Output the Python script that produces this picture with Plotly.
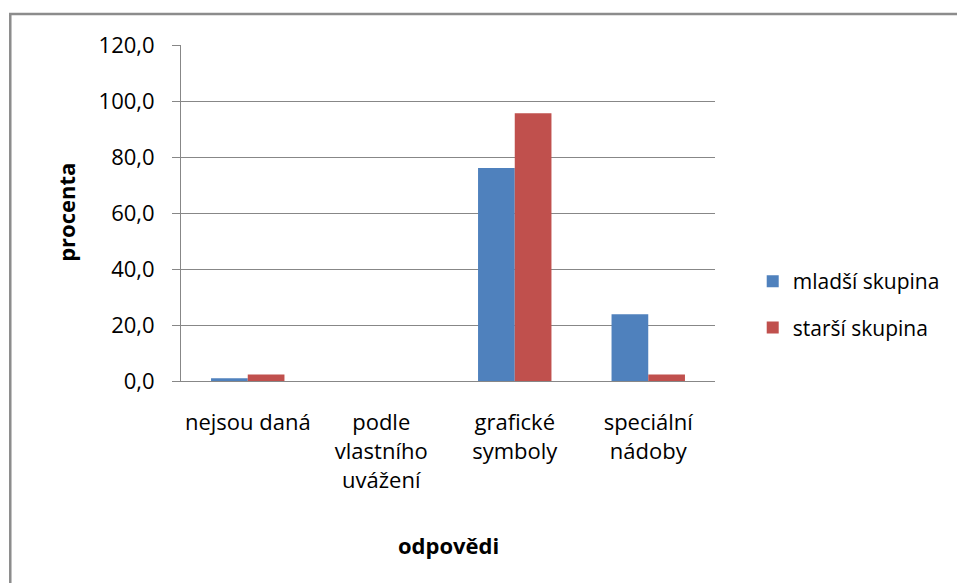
import plotly.graph_objects as go

# Survey answers (percent) for the two age groups
categories = ["nejsou daná", "podle<br>vlastního<br>uvážení", "grafické<br>symboly", "speciální<br>nádoby"]
mladsi = [1.0, 0.0, 76.1, 23.8]
starsi = [2.3, 0.0, 95.6, 2.3]
y_ticks = [0, 20, 40, 60, 80, 100, 120]
y_tick_labels = ["0,0", "20,0", "40,0", "60,0", "80,0", "100,0", "120,0"]

W, H = 957, 583
L, R, T, B = 181, 719, 45, 381  # plot area in pixels

FONT = "Open Sans"
GRID = "#878787"

fig = go.Figure()
fig.add_trace(go.Bar(
    x=categories, y=mladsi, name="mladší skupina",
    marker=dict(color="#4F81BD", line=dict(width=0)),
    legendgroup="a",
))
fig.add_trace(go.Bar(
    x=categories, y=starsi, name="starší skupina",
    marker=dict(color="#C0504D", line=dict(width=0)),
    legendgroup="b",
))

pw, ph = R - L, B - T


def px_x(x):
    return (x - L) / pw


def px_y(y):
    return (B - y) / ph


fig.update_layout(
    width=W, height=H,
    margin=dict(l=L, r=W - R, t=T, b=H - B, pad=0),
    paper_bgcolor="white", plot_bgcolor="white",
    barmode="group", bargap=0.45, bargroupgap=0,
    font=dict(family=FONT, size=22, color="#000000"),
    showlegend=True,
    legend=dict(
        x=px_x(757), y=px_y(261), xanchor="left", yanchor="top",
        font=dict(family=FONT, size=21, color="#000000"),
        tracegroupgap=16, itemclick=False, bgcolor="rgba(0,0,0,0)",
    ),
    xaxis=dict(
        showgrid=False, showline=True, linecolor=GRID, linewidth=1,
        ticks="", tickfont=dict(family=FONT, size=22),
        ticklabelstandoff=22, fixedrange=True,
    ),
    yaxis=dict(
        range=[0, 120], tickvals=y_ticks, ticktext=y_tick_labels,
        showgrid=True, gridcolor=GRID, gridwidth=1,
        showline=True, linecolor=GRID, linewidth=1,
        ticks="outside", ticklen=8, tickcolor=GRID,
        tickfont=dict(family=FONT, size=22), ticklabelstandoff=13,
        zeroline=False, fixedrange=True,
    ),
    shapes=[dict(
        type="rect", xref="paper", yref="paper",
        x0=px_x(9), x1=px_x(W + 10), y0=px_y(H + 10), y1=px_y(14),
        line=dict(color="#8C8C8C", width=2.5), fillcolor="rgba(0,0,0,0)",
        layer="below",
    )],
    annotations=[
        dict(text="<b>procenta</b>", xref="paper", yref="paper",
             x=px_x(65), y=px_y(212), xanchor="center", yanchor="middle",
             textangle=-90, showarrow=False, font=dict(family=FONT, size=22)),
        dict(text="<b>odpovědi</b>", xref="paper", yref="paper",
             x=px_x(450), y=px_y(545), xanchor="center", yanchor="middle",
             showarrow=False, font=dict(family=FONT, size=22)),
    ],
)

fig.write_html("out.html")
